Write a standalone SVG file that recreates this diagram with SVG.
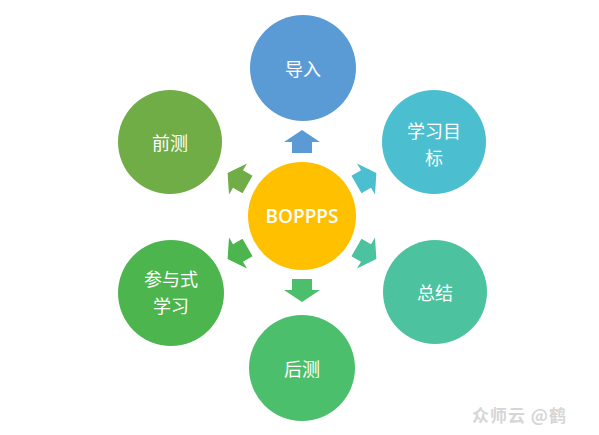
<svg xmlns="http://www.w3.org/2000/svg" width="599" height="435" viewBox="0 0 599 435">
<defs>
<style>
.t{fill:#fff;font-family:"Noto Sans CJK SC","Liberation Sans",sans-serif;font-size:18px;text-anchor:middle;dominant-baseline:central}
.c{fill:#fff;font-family:"Open Sans","Liberation Sans",sans-serif;font-size:19px;font-weight:600;text-anchor:middle;dominant-baseline:central}
.wm{fill:#d6d6d6;font-family:"Noto Sans CJK SC",sans-serif;font-size:17px;font-weight:bold;letter-spacing:1px}
</style>
<path id="arr" d="M0,-12 L18,0 L10,0 L10,11 L-10,11 L-10,0 L-18,0 Z"/>
</defs>
<rect width="599" height="435" fill="#fff"/>
<g id="connectors">
<use href="#arr" fill="#5B9BD5" transform="translate(302,142)"/>
<use href="#arr" fill="#4BBFCF" transform="translate(366,179) rotate(60)"/>
<use href="#arr" fill="#4CC39E" transform="translate(366,253) rotate(120)"/>
<use href="#arr" fill="#4CBF6C" transform="translate(302,290) rotate(180)"/>
<use href="#arr" fill="#4CB54E" transform="translate(238,253) rotate(240)"/>
<use href="#arr" fill="#70AD47" transform="translate(238,179) rotate(300)"/>
</g>
<g id="center"><circle cx="302" cy="216" r="54" fill="#FFC000"/><text class="c" x="302" y="216">BOPPPS</text></g>
<g id="n1"><circle cx="303" cy="68" r="53" fill="#5B9BD5"/><text class="t" x="303" y="68">导入</text></g>
<g id="n2"><circle cx="434" cy="142" r="52" fill="#4BBFCF"/><text class="t" x="434" y="130">学习目</text><text class="t" x="434" y="157">标</text></g>
<g id="n3"><circle cx="435" cy="292" r="52" fill="#4CC39E"/><text class="t" x="435" y="292">总结</text></g>
<g id="n4"><circle cx="302" cy="368" r="53" fill="#4CBF6C"/><text class="t" x="302" y="368">后测</text></g>
<g id="n5"><circle cx="171" cy="293" r="53" fill="#4CB54E"/><text class="t" x="171" y="278">参与式</text><text class="t" x="171" y="305">学习</text></g>
<g id="n6"><circle cx="170" cy="142" r="52" fill="#70AD47"/><text class="t" x="170" y="142">前测</text></g>
<text class="wm" x="472" y="422">众师云 @鹤</text>
</svg>
